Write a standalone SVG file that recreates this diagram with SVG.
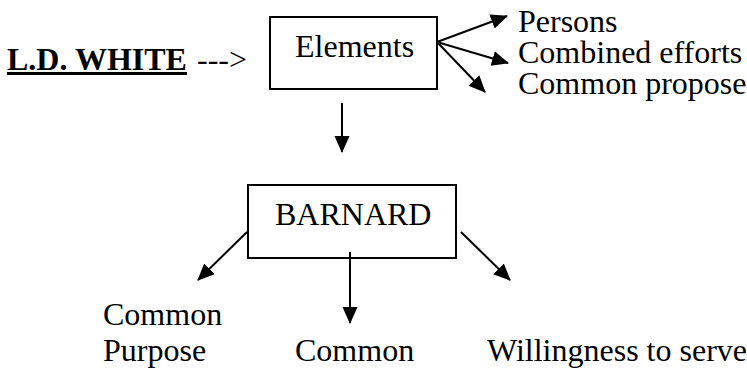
<svg xmlns="http://www.w3.org/2000/svg" width="747" height="368" viewBox="0 0 747 368">
<style>
  .t { font-family: "Liberation Serif", "Times New Roman", serif; font-size: 32px; fill: #000; }
  .bold { font-weight: bold; }
  .box { fill: #fff; stroke: #000; stroke-width: 2; }
  .conn { stroke: #000; stroke-width: 2; fill: none; marker-end: url(#ah); }
</style>
<defs>
  <marker id="ah" markerUnits="userSpaceOnUse" markerWidth="18" markerHeight="16" refX="16" refY="7.5" orient="auto">
    <path d="M0,0 L17,7.5 L0,15 z" fill="#000"/>
  </marker>
</defs>
<rect width="747" height="368" fill="#fff"/>
<g id="ldwhite">
  <text class="t bold" x="7" y="70">L.D. WHITE</text>
  <rect x="7" y="72" width="180" height="3" fill="#000"/>
  <text class="t" x="197" y="70">---&gt;</text>
</g>
<g id="elements">
  <rect class="box" x="270" y="17" width="167" height="72"/>
  <text class="t" x="295" y="57">Elements</text>
</g>
<g id="persons"><text class="t" x="518" y="32">Persons</text></g>
<g id="combined"><text class="t" x="518" y="63">Combined efforts</text></g>
<g id="commonpropose"><text class="t" x="518" y="94">Common propose</text></g>
<g id="barnard">
  <rect class="box" x="248" y="185" width="208" height="73"/>
  <text class="t" x="275" y="225">BARNARD</text>
</g>
<g id="commonpurpose">
  <text class="t" x="103" y="325">Common</text>
  <text class="t" x="103" y="361">Purpose</text>
</g>
<g id="common"><text class="t" x="295" y="361">Common</text></g>
<g id="willingness"><text class="t" x="487" y="361">Willingness to serve</text></g>
<g id="connectors">
  <line class="conn" x1="437" y1="42" x2="507" y2="16"/>
  <line class="conn" x1="437" y1="42" x2="508" y2="63"/>
  <line class="conn" x1="437" y1="42" x2="485" y2="92"/>
  <line class="conn" x1="342" y1="103" x2="342" y2="152"/>
  <line class="conn" x1="247" y1="232" x2="198" y2="280"/>
  <line class="conn" x1="350" y1="252" x2="350" y2="323"/>
  <line class="conn" x1="461" y1="232" x2="510" y2="280"/>
</g>
</svg>
